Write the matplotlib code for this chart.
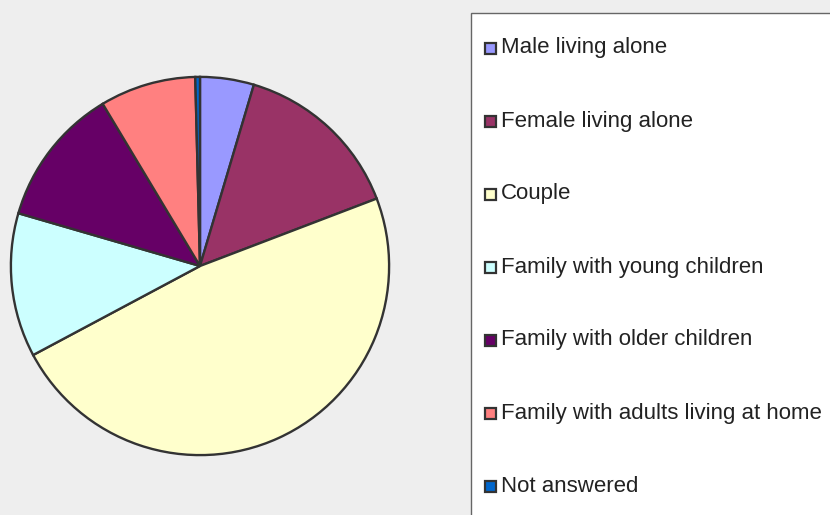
import matplotlib
matplotlib.use("Agg")
import matplotlib.pyplot as plt
from matplotlib.patches import Rectangle

categories = [
    "Male living alone",
    "Female living alone",
    "Couple",
    "Family with young children",
    "Family with older children",
    "Family with adults living at home",
    "Not answered",
]
shares = [4.6, 14.6, 48.0, 12.3, 11.9, 8.2, 0.4]
colors = ["#9999FF", "#993366", "#FFFFCC", "#CCFFFF", "#660066", "#FF8080", "#0066CC"]

W, H = 830, 515
fig = plt.figure(figsize=(W / 100, H / 100), dpi=100)
fig.patch.set_facecolor("#EEEEEE")

# pie area: centre (200, 266) px, radius 191 px
cx, cy, r = 200, 266, 191
ax = fig.add_axes([(cx - r) / W, (H - cy - r) / H, 2 * r / W, 2 * r / H])
ax.pie(shares, colors=colors, startangle=90, counterclock=False, radius=1,
       wedgeprops=dict(edgecolor="#333333", linewidth=1.7))
ax.set_xlim(-1.01, 1.01)
ax.set_ylim(-1.01, 1.01)
ax.set_aspect("equal")
ax.axis("off")

# legend panel
lax = fig.add_axes([0, 0, 1, 1])
lax.set_xlim(0, W)
lax.set_ylim(H, 0)
lax.axis("off")
lax.add_patch(Rectangle((470.5, 12.5), 400, 520, facecolor="white",
                        edgecolor="#666666", linewidth=1.0))
y0, dy = 48, 73
for i, (lab, col) in enumerate(zip(categories, colors)):
    y = y0 + i * dy
    lax.add_patch(Rectangle((484.5, y - 5.5), 11, 11, facecolor=col,
                            edgecolor="#333333", linewidth=1.6))
    lax.text(501, y, lab, fontsize=16, family="Liberation Sans",
             color="#222222", va="center", ha="left")

fig.savefig("out.png", dpi=100, facecolor=fig.get_facecolor())
